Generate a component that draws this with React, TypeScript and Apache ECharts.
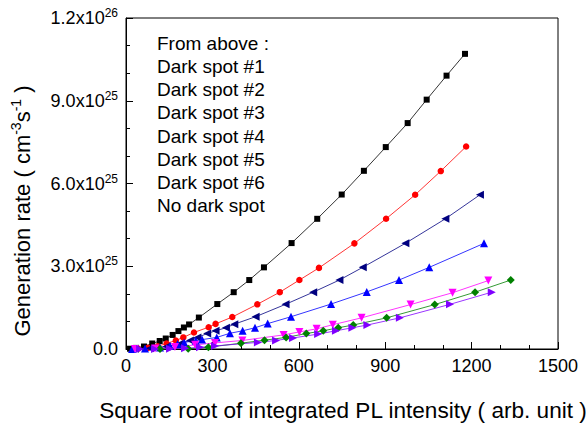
import React, { useEffect, useRef } from "react";
import * as echarts from "echarts";

// Square root of integrated PL intensity (arb. unit) and generation rate (cm^-3 s^-1)
const spot1X = [14, 35, 62.5, 91, 117, 138, 162, 182, 201, 219, 253, 317, 374, 428, 479, 575, 664, 749, 826, 902, 978, 1044, 1113, 1177];
const spot1Y = [0.1e24, 0.4e24, 0.9e24, 2.0e24, 2.9e24, 3.8e24, 5.1e24, 6.5e24, 7.8e24, 8.9e24, 11.4e24, 16.3e24, 20.6e24, 25.0e24, 29.6e24, 38.4e24, 47.2e24, 56.0e24, 64.6e24, 73.2e24, 81.9e24, 90.4e24, 99.1e24, 107e24];

const spot2X = [42, 76, 110, 141, 173, 199, 236, 287, 311, 369, 456, 534, 602, 670, 793, 903, 1004, 1093, 1181];
const spot2Y = [0.1e24, 0.4e24, 1.0e24, 2.0e24, 3.1e24, 4.2e24, 6.0e24, 7.9e24, 9.1e24, 11.6e24, 16.2e24, 20.6e24, 25.0e24, 29.4e24, 38.3e24, 47.2e24, 55.9e24, 64.5e24, 73.4e24];

const spot3X = [31, 83, 141, 185, 222, 248, 282, 311, 347, 376, 450, 554, 650, 741, 822, 970, 1109, 1229];
const spot3Y = [0.05e24, 0.25e24, 0.9e24, 1.8e24, 3.1e24, 4.2e24, 5.6e24, 6.6e24, 7.7e24, 9.0e24, 11.7e24, 16.2e24, 20.6e24, 25.0e24, 29.6e24, 38.3e24, 47.2e24, 55.9e24];

const spot4X = [21, 66, 118, 153, 179, 202, 242, 264, 315, 361, 405, 448, 492, 573, 712, 836, 948, 1053, 1243];
const spot4Y = [0, 0.2e24, 0.5e24, 1.1e24, 1.8e24, 2.4e24, 3.0e24, 3.4e24, 4.2e24, 5.7e24, 6.6e24, 7.7e24, 9.2e24, 11.7e24, 16.3e24, 20.7e24, 25.0e24, 29.6e24, 38.3e24];

const spot5X = [31, 101, 170, 240, 309, 404, 547, 602, 662, 718, 818, 988, 1134, 1258];
const spot5Y = [0, 0.2e24, 0.7e24, 1.5e24, 2.2e24, 3.1e24, 5.1e24, 6.2e24, 7.3e24, 8.8e24, 11.3e24, 16.1e24, 20.4e24, 24.8e24];

const spot6X = [118, 216, 286, 399, 481, 556, 626, 685, 737, 789, 905, 1072, 1212, 1336];
const spot6Y = [0, 0.07e24, 0.65e24, 2.1e24, 3.2e24, 4.2e24, 5.6e24, 6.6e24, 7.7e24, 8.7e24, 11.3e24, 16.1e24, 20.6e24, 25.0e24];

const noSpotX = [49, 101, 153, 205, 257, 309, 458, 521, 580, 667, 729, 786, 838, 951, 1125, 1270];
const noSpotY = [0, 0, 0.1e24, 0.25e24, 0.6e24, 1.1e24, 2.4e24, 3.1e24, 4.0e24, 5.4e24, 6.6e24, 7.7e24, 8.7e24, 11.3e24, 16.2e24, 20.6e24];

const legendLines = ["From above :", "Dark spot #1", "Dark spot #2", "Dark spot #3", "Dark spot #4", "Dark spot #5", "Dark spot #6", "No dark spot"];

const FONT = 'Arial, "Liberation Sans", sans-serif';

const pair = (xs: number[], ys: number[]) => xs.map((x, i) => [x, ys[i]]);

const seriesDefs = [
  { name: "Dark spot #1", x: spot1X, y: spot1Y, color: "#000000", symbol: "rect", size: 6, rotate: 0 },
  { name: "Dark spot #2", x: spot2X, y: spot2Y, color: "#ff0000", symbol: "circle", size: 6.5, rotate: 0 },
  { name: "Dark spot #3", x: spot3X, y: spot3Y, color: "#000080", symbol: "triangle", size: 8, rotate: 90 },
  { name: "Dark spot #4", x: spot4X, y: spot4Y, color: "#0000ff", symbol: "triangle", size: 8, rotate: 0 },
  { name: "Dark spot #5", x: spot5X, y: spot5Y, color: "#ff00ff", symbol: "triangle", size: 8, rotate: 180 },
  { name: "Dark spot #6", x: spot6X, y: spot6Y, color: "#008000", symbol: "diamond", size: 8, rotate: 0 },
  { name: "No dark spot", x: noSpotX, y: noSpotY, color: "#8000ff", symbol: "triangle", size: 8, rotate: -90 },
];

function yLabel(v: number): string {
  if (v === 0) return "{m|0.0}";
  const e = Math.floor(Math.log10(v) + 1e-9);
  const m = Math.round((v / Math.pow(10, e)) * 10) / 10;
  return `{m|${m.toFixed(1)}x10}{s|${e}}`;
}

export default function App() {
  const ref = useRef<HTMLDivElement>(null);
  useEffect(() => {
    document.body.style.margin = "0";
    if (!ref.current) return;
    const chart = echarts.init(ref.current, null, { renderer: "svg" });
    const option: any = {
      animation: false,
      backgroundColor: "#ffffff",
      grid: { left: 126, right: 29, top: 18, bottom: 77, show: true, borderColor: "#000", borderWidth: 1 },
      xAxis: {
        type: "value",
        min: 0,
        max: 1500,
        interval: 300,
        axisLine: { show: true, lineStyle: { color: "#000", width: 1 } },
        axisTick: { show: true, inside: true, length: 7, lineStyle: { color: "#000" } },
        minorTick: { show: true, splitNumber: 3, length: 4, lineStyle: { color: "#000" } },
        splitLine: { show: false },
        axisLabel: { color: "#000", fontSize: 18, fontFamily: FONT, margin: 8, formatter: (v: number) => String(v) },
      },
      yAxis: {
        type: "value",
        min: 0,
        max: 1.2e26,
        interval: 3e25,
        axisLine: { show: true, lineStyle: { color: "#000", width: 1 } },
        axisTick: { show: true, inside: true, length: 7, lineStyle: { color: "#000" } },
        minorTick: { show: true, splitNumber: 3, length: 4, lineStyle: { color: "#000" } },
        splitLine: { show: false },
        axisLabel: {
          color: "#000",
          margin: 8,
          formatter: yLabel,
          rich: {
            m: { fontSize: 18, fontFamily: FONT, color: "#000", lineHeight: 22 },
            s: { fontSize: 12, fontFamily: FONT, color: "#000", verticalAlign: "top", lineHeight: 12 },
          },
        },
      },
      series: seriesDefs.map((s) => ({
        type: "line",
        name: s.name,
        data: pair(s.x, s.y),
        symbol: s.symbol,
        symbolSize: s.size,
        symbolRotate: s.rotate,
        showSymbol: true,
        lineStyle: { color: s.color, width: 0.8 },
        itemStyle: { color: s.color, borderWidth: 0 },
        emphasis: { disabled: true },
      })),
      graphic: [
        ...legendLines.map((t, i) => ({
          type: "text",
          left: 157,
          top: 45 + i * 23.15 - 11,
          style: { text: t, fill: "#000", font: `19px ${FONT}` },
        })),
        {
          type: "text",
          x: 343,
          y: 410,
          style: {
            text: "Square root of integrated PL intensity ( arb. unit )",
            fill: "#000",
            font: `22.6px ${FONT}`,
            align: "center",
            verticalAlign: "middle",
          },
        },
        {
          type: "text",
          x: 22,
          y: 211,
          rotation: Math.PI / 2,
          style: {
            text: "{a|Generation rate ( cm}{s|-3}{a|s}{s|-1}{a| )}",
            align: "center",
            verticalAlign: "middle",
            rich: {
              a: { fontSize: 22, fontFamily: FONT, fill: "#000", lineHeight: 26 },
              s: { fontSize: 14, fontFamily: FONT, fill: "#000", verticalAlign: "top", lineHeight: 14 },
            },
          },
        },
      ],
    };
    chart.setOption(option);
    return () => chart.dispose();
  }, []);
  return <div ref={ref} style={{ width: 587, height: 426 }} />;
}
